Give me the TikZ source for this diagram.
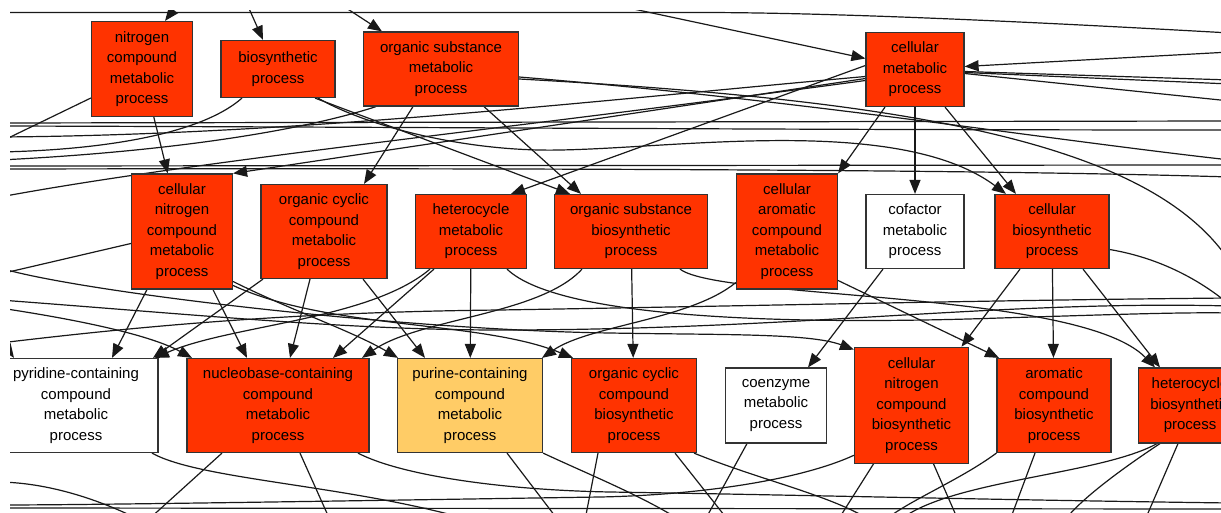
\documentclass[tikz,border=0pt]{standalone}
\usepackage{fontspec}
\setmainfont{Liberation Sans}
\usetikzlibrary{arrows.meta,backgrounds}

\definecolor{hitred}{HTML}{FF3300}
\definecolor{hitgold}{HTML}{FFCC66}
\definecolor{boxline}{HTML}{333333}
\newcommand{\termfont}{\fontsize{15pt}{20.5pt}\selectfont}

\begin{document}
\begin{tikzpicture}[x=1pt, y=-1pt,
  term/.style={rectangle, draw=boxline, line width=1.2pt, align=center, inner sep=0pt, font=\termfont},
  redterm/.style={term, fill=hitred},
  goldterm/.style={term, fill=hitgold},
  whiteterm/.style={term, fill=white},
  edgeline/.style={line width=1.2pt, black!90},
  isa/.style={edgeline, -{Triangle[length=14pt,width=11pt]}}]

  \useasboundingbox (0,0) rectangle (1221,513);
  \clip (10,11) rectangle (1221,513);

  % top row
  \node[redterm, minimum width=101pt, minimum height=95pt] (nitro) at (142,69) {nitrogen\\compound\\metabolic\\process};
  \node[redterm, minimum width=114pt, minimum height=57pt] (biosyn) at (278,69) {biosynthetic\\process};
  \node[redterm, minimum width=155pt, minimum height=74pt] (orgsub) at (441,69) {organic substance\\metabolic\\process};
  \node[redterm, minimum width=98pt, minimum height=74pt] (cellmet) at (915,69.5) {cellular\\metabolic\\process};

  % middle row
  \node[redterm, minimum width=101pt, minimum height=115pt] (cellnitro) at (182,231.5) {cellular\\nitrogen\\compound\\metabolic\\process};
  \node[redterm, minimum width=126pt, minimum height=94pt] (orgcyc) at (324,231.5) {organic cyclic\\compound\\metabolic\\process};
  \node[redterm, minimum width=111pt, minimum height=74pt] (hetero) at (471,231.5) {heterocycle\\metabolic\\process};
  \node[redterm, minimum width=153pt, minimum height=74pt] (orgsubbio) at (631,231.5) {organic substance\\biosynthetic\\process};
  \node[redterm, minimum width=101pt, minimum height=115pt] (cellarom) at (787,231.5) {cellular\\aromatic\\compound\\metabolic\\process};
  \node[whiteterm, minimum width=98pt, minimum height=74pt] (cofactor) at (915,231.5) {cofactor\\metabolic\\process};
  \node[redterm, minimum width=114pt, minimum height=74pt] (cellbio) at (1052,231.5) {cellular\\biosynthetic\\process};

  % bottom row
  \node[whiteterm, minimum width=164pt, minimum height=94pt] (pyridine) at (76,405.5) {pyridine-containing\\compound\\metabolic\\process};
  \node[redterm, minimum width=182pt, minimum height=94pt] (nucleo) at (278,405.5) {nucleobase-containing\\compound\\metabolic\\process};
  \node[goldterm, minimum width=145pt, minimum height=94pt] (purine) at (470,405.5) {purine-containing\\compound\\metabolic\\process};
  \node[redterm, minimum width=125pt, minimum height=94pt] (orgcycbio) at (634,405.5) {organic cyclic\\compound\\biosynthetic\\process};
  \node[whiteterm, minimum width=101pt, minimum height=75pt] (coenzyme) at (776,405.5) {coenzyme\\metabolic\\process};
  \node[redterm, minimum width=114pt, minimum height=116pt] (cellnitrobio) at (911.5,405.3) {cellular\\nitrogen\\compound\\biosynthetic\\process};
  \node[redterm, minimum width=114pt, minimum height=94pt] (arombio) at (1054,405.5) {aromatic\\compound\\biosynthetic\\process};
  \node[redterm, minimum width=103pt, minimum height=75pt] (heterobio) at (1190,405.5) {heterocycle\\biosynthetic\\process};

  % free ends outside the view
  \coordinate (up1) at (178,4);
  \coordinate (up2) at (247,4);
  \coordinate (up3) at (340,4);
  \coordinate (up4) at (610,4);
  \coordinate (lf0) at (0,12.5);
  \coordinate (lf1) at (0,142);
  \coordinate (lf1b) at (0,137);
  \coordinate (lf2) at (0,152);
  \coordinate (lf3) at (0,160);
  \coordinate (lf4) at (0,197);
  \coordinate (lf5) at (0,308);
  \coordinate (lf6) at (0,338);
  \coordinate (lf7) at (0,123);
  \coordinate (lf8) at (0,126);
  \coordinate (lf9) at (0,166);
  \coordinate (lf10) at (0,169);
  \coordinate (lf11) at (0,274);
  \coordinate (lf12) at (0,268);
  \coordinate (lf13) at (0,300);
  \coordinate (lf14) at (0,343);
  \coordinate (lf15) at (0,505);
  \coordinate (lf16) at (0,482);
  \coordinate (lf17) at (0,508);
  \coordinate (rt0) at (1230,33);
  \coordinate (rt1) at (1230,52);
  \coordinate (rt2) at (1230,121);
  \coordinate (rt3) at (1230,130);
  \coordinate (rt4) at (1230,165);
  \coordinate (rt5) at (1230,177);
  \coordinate (rt6) at (1230,160);
  \coordinate (rt7) at (1230,262);
  \coordinate (rt8) at (1230,80);
  \coordinate (rt9) at (1230,84);
  \coordinate (rt10) at (1230,101);
  \coordinate (rt11) at (1230,306);
  \coordinate (rt12) at (1230,298);
  \coordinate (rt13) at (1230,313);
  \coordinate (rt14) at (1230,305);
  \coordinate (rt15) at (1230,503);
  \coordinate (rt16) at (1230,509);
  \coordinate (bt1) at (148,520);
  \coordinate (bt2) at (330,520);
  \coordinate (bt3) at (558,520);
  \coordinate (bt4) at (680,520);
  \coordinate (bt5) at (585,520);
  \coordinate (bt6) at (728,520);
  \coordinate (bt7) at (870,520);
  \coordinate (bt8) at (705,520);
  \coordinate (bt9) at (838,520);
  \coordinate (bt10) at (958,520);
  \coordinate (bt11) at (885,520);
  \coordinate (bt12) at (1010,520);
  \coordinate (bt13) at (900,520);
  \coordinate (bt14) at (1145,520);
  \coordinate (bt15) at (1065,520);
  \coordinate (bt16) at (140,520);
  \coordinate (bt17) at (470,520);

  \begin{pgfonlayer}{background}
  \clip (10,11) rectangle (1221,513);

  % edges into the top row
  \draw[isa] (up1) -- ([xshift=23pt]nitro.north);
  \draw[isa] (up2) -- ([xshift=-15pt]biosyn.north);
  \draw[isa] (up3) -- ([xshift=-59pt]orgsub.north);
  \draw[isa] (up4) -- ([yshift=11pt]cellmet.west);
  \draw[isa] (rt1) -- ([yshift=3pt]cellmet.east);
  \draw[edgeline] (lf0) -- (700,12.5) .. controls (820,12.5) and (1000,20) .. (rt0);
  \draw[edgeline] ([yshift=-2pt]cellmet.east) -- (rt8);
  \draw[edgeline] ([yshift=-3pt]cellmet.east) -- (rt9);
  \draw[edgeline] ([yshift=-4pt]cellmet.east) -- (rt10);

  % long edges between the top and middle rows
  \draw[edgeline] ([yshift=-29pt]nitro.west) -- (lf1);
  \draw[edgeline] ([xshift=-36pt]biosyn.south) .. controls (200,135) and (100,150) .. (lf2);
  \draw[edgeline] ([xshift=-65pt]orgsub.south) .. controls (320,125) and (200,150) .. (lf3);
  \draw[edgeline] ([yshift=-7pt]cellmet.west) .. controls (600,100) and (300,135) .. (lf1b);
  \draw[edgeline] ([yshift=-11pt]cellmet.west) .. controls (500,130) and (200,160) .. (lf4);
  \draw[edgeline] (lf7) -- (rt2);
  \draw[edgeline] (lf8) .. controls (400,127) and (800,130) .. (rt3);
  \draw[edgeline] (lf9) -- (rt4);
  \draw[edgeline] (lf10) .. controls (600,168) and (1000,170) .. (rt5);
  \draw[edgeline] ([yshift=-8pt]orgsub.east) .. controls (800,100) and (1050,140) .. (rt6);
  \draw[edgeline] ([yshift=-10pt]orgsub.east) .. controls (900,100) and (1150,140) .. (rt7);

  % top row to middle row
  \draw[isa] (nitro) -- (cellnitro);
  \draw[isa] ([yshift=-9pt]cellmet.west) -- (cellnitro.north east);
  \draw[isa] ([xshift=-28pt]orgsub.south) -- ([xshift=40pt]orgcyc.north);
  \draw[isa] ([yshift=4pt]cellmet.west) -- ([xshift=40pt]hetero.north);
  \draw[isa] ([xshift=43pt]orgsub.south) -- ([xshift=-50pt]orgsubbio.north);
  \draw[isa] ([xshift=37pt]biosyn.south) -- ([xshift=-61pt]orgsubbio.north);
  \draw[isa] ([xshift=-30pt]cellmet.south) -- (cellarom.north east);
  \draw[isa] (cellmet) -- (cofactor);
  \draw[isa] ([xshift=30pt]cellmet.south) -- ([xshift=-36pt]cellbio.north);
  \draw[isa] ([xshift=40pt]biosyn.south) .. controls (370,128) and (470,152) .. (560,150)
    .. controls (680,148) and (900,115) .. ([xshift=-46pt]cellbio.north);

  % long edges between the middle and bottom rows
  \draw[edgeline] ([yshift=-12pt]cellnitro.west) -- (lf11);
  \draw[edgeline] (lf13) .. controls (200,315) and (350,330) .. (500,330)
    .. controls (800,330) and (1000,300) .. (rt11);
  \draw[edgeline] (lf14) .. controls (150,325) and (300,312) .. (500,310)
    .. controls (800,305) and (1000,300) .. (rt12);
  \draw[edgeline] ([xshift=36pt]hetero.south) .. controls (560,320) and (800,325) .. (1000,318)
    .. controls (1100,315) and (1180,312) .. (rt13);
  \draw[edgeline] ([yshift=-18pt]cellbio.east) .. controls (1160,258) and (1200,280) .. (rt14);

  % middle row to bottom row
  \draw[isa] ([xshift=-35pt]cellnitro.south) -- ([xshift=36pt]pyridine.north);
  \draw[isa] ([xshift=-61pt]orgcyc.south) -- ([xshift=77pt]pyridine.north);
  \draw[isa] ([xshift=-41pt]hetero.south) .. controls (370,320) and (230,325) .. ([xshift=79pt]pyridine.north);
  \draw[isa] (lf6) -- ([xshift=-62pt]pyridine.north);
  \draw[isa] ([xshift=31pt]cellnitro.south) -- ([xshift=-31pt]nucleo.north);
  \draw[isa] ([xshift=-14pt]orgcyc.south) -- ([xshift=12pt]nucleo.north);
  \draw[isa] ([xshift=-37pt]hetero.south) -- ([xshift=55pt]nucleo.north);
  \draw[isa] ([xshift=-49pt]orgsubbio.south) .. controls (540,315) and (420,318) .. ([xshift=84pt]nucleo.north);
  \draw[isa] (lf5) .. controls (80,320) and (150,335) .. ([xshift=-86pt]nucleo.north);
  \draw[isa] ([yshift=-50pt]cellnitro.east) .. controls (290,310) and (350,330) .. ([xshift=-72pt]purine.north);
  \draw[isa] ([xshift=39pt]orgcyc.south) -- ([xshift=-45pt]purine.north);
  \draw[isa] (hetero) -- (purine);
  \draw[isa] ([yshift=-51pt]cellarom.west) .. controls (690,320) and (590,325) .. ([xshift=72pt]purine.north);
  \draw[isa] ([yshift=-54pt]cellnitro.east) .. controls (330,330) and (480,320) .. ([xshift=-61pt]orgcycbio.north);
  \draw[isa] (orgsubbio) -- (orgcycbio);
  \draw[isa] ([xshift=-32pt]cofactor.south) -- ([xshift=32pt]coenzyme.north);
  \draw[isa] (lf12) .. controls (80,292) and (400,330) .. (610,333)
    .. controls (720,335) and (810,333) .. ([yshift=-3pt]cellnitrobio.north west);
  \draw[isa] ([xshift=-32pt]cellbio.south) -- ([xshift=50pt]cellnitrobio.north);
  \draw[isa] ([yshift=-49pt]cellarom.east) -- ([xshift=-55pt]arombio.north);
  \draw[isa] (cellbio) -- (arombio);
  \draw[isa] ([xshift=31pt]cellbio.south) -- ([xshift=-30pt]heterobio.north);
  \draw[isa] ([xshift=49pt]orgsubbio.south) .. controls (720,300) and (1080,290) .. ([xshift=-35pt]heterobio.north);

  % bottom row to below the view
  \draw[edgeline] ([xshift=76pt]pyridine.south) .. controls (200,480) and (350,485) .. (bt17);
  \draw[edgeline] ([xshift=-56pt]nucleo.south) -- (bt1);
  \draw[edgeline] ([xshift=22pt]nucleo.south) -- (bt2);
  \draw[edgeline] ([xshift=80pt]nucleo.south) .. controls (400,475) and (500,490) .. (610,492)
    .. controls (800,495) and (1000,500) .. (rt15);
  \draw[edgeline] ([xshift=37pt]purine.south) -- (bt3);
  \draw[edgeline] (purine.south east) .. controls (590,475) and (640,495) .. (bt4);
  \draw[edgeline] ([xshift=-36pt]orgcycbio.south) -- (bt5);
  \draw[edgeline] ([xshift=41pt]orgcycbio.south) -- (bt6);
  \draw[edgeline] ([xshift=60pt]orgcycbio.south) .. controls (760,480) and (830,495) .. (bt7);
  \draw[edgeline] ([xshift=-29pt]coenzyme.south) -- (bt8);
  \draw[edgeline] ([xshift=-38pt]cellnitrobio.south) -- (bt9);
  \draw[edgeline] ([xshift=22pt]cellnitrobio.south) -- (bt10);
  \draw[edgeline] ([yshift=-50pt]cellnitrobio.west) .. controls (800,480) and (700,495) .. (600,497)
    .. controls (400,500) and (100,505) .. (lf15);
  \draw[edgeline] (arombio.south west) .. controls (960,480) and (910,500) .. (bt11);
  \draw[edgeline] ([xshift=-19pt]arombio.south) -- (bt12);
  \draw[edgeline] ([xshift=-33pt]heterobio.south) .. controls (1100,475) and (950,480) .. (bt13);
  \draw[edgeline] ([xshift=-12pt]heterobio.south) -- (bt14);
  \draw[edgeline] ([xshift=-30pt]heterobio.south) .. controls (1120,470) and (1080,500) .. (bt15);
  \draw[edgeline] (lf16) .. controls (50,483) and (100,500) .. (bt16);
  \draw[edgeline] (lf17) -- (rt16);
  \end{pgfonlayer}
\end{tikzpicture}
\end{document}
